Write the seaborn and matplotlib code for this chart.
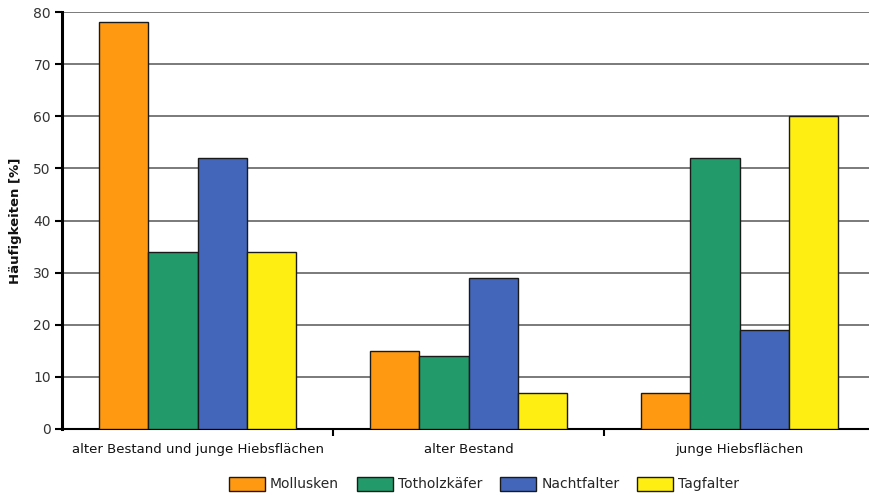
import matplotlib
matplotlib.use("Agg")
import matplotlib.pyplot as plt
from matplotlib.patches import Patch
import seaborn as sns
import pandas as pd

categories = ["alter Bestand und junge Hiebsflächen", "alter Bestand", "junge Hiebsflächen"]
groups = ["Mollusken", "Totholzkäfer", "Nachtfalter", "Tagfalter"]
mollusken = [78, 15, 7]
totholzkaefer = [34, 14, 52]
nachtfalter = [52, 29, 19]
tagfalter = [34, 7, 60]
colors = ["#FF9912", "#239A6A", "#4366BB", "#FFEE11"]
yticks = [0, 10, 20, 30, 40, 50, 60, 70, 80]

rows = []
for g, vals in zip(groups, [mollusken, totholzkaefer, nachtfalter, tagfalter]):
    for c, v in zip(categories, vals):
        rows.append({"Bereich": c, "Gruppe": g, "Wert": v})
df = pd.DataFrame(rows)

sns.set_style("white")
plt.rcParams["font.family"] = ["DejaVu Sans"]

fig = plt.figure(figsize=(8.69, 4.97), dpi=100)
# the plot area runs slightly past the right edge of the canvas
ax = fig.add_axes([62 / 869, 1 - 429 / 497, 813 / 869, 417 / 497])

sns.barplot(data=df, x="Bereich", y="Wert", hue="Gruppe", order=categories,
            hue_order=groups, palette=colors, width=0.73, edgecolor="#1a1a1a",
            linewidth=1.0, saturation=1, ax=ax, legend=False, zorder=3)

ax.set_ylim(0, 80)
ax.set_xlim(-0.5, 2.5)
ax.set_yticks(yticks)
ax.set_yticklabels([str(t) for t in yticks], fontsize=10, color="#333333")
ax.yaxis.grid(True, color="#7a7a7a", linewidth=1.4, zorder=0)
ax.set_axisbelow(True)
ax.tick_params(axis="y", length=5, width=1.5, color="black", pad=3, left=True)
ax.set_xticks(range(len(categories)))
ax.set_xticklabels(categories, fontsize=9.5, color="#111111")
ax.tick_params(axis="x", which="major", length=0, pad=10)
ax.set_xticks([0.5, 1.5], minor=True)
ax.tick_params(axis="x", which="minor", length=5, width=1.5, color="black", bottom=True)
ax.set_xlabel("")
ax.set_ylabel("Häufigkeiten [%]", fontsize=9.5, fontweight="bold", color="#111111", labelpad=8)

for side in ["top", "right"]:
    ax.spines[side].set_visible(False)
ax.spines["left"].set_linewidth(2.2)
ax.spines["left"].set_color("black")
ax.spines["bottom"].set_linewidth(1.5)
ax.spines["bottom"].set_color("black")

handles = [Patch(facecolor=c, edgecolor="#1a1a1a", linewidth=1.0, label=g)
           for c, g in zip(colors, groups)]
fig.legend(handles=handles, loc="center", bbox_to_anchor=(0.557, 0.026), ncol=4,
           frameon=False, fontsize=10, handlelength=2.6, handleheight=1.2,
           handletextpad=0.35, columnspacing=1.3)

fig.savefig("out.png", dpi=100, facecolor="white")
